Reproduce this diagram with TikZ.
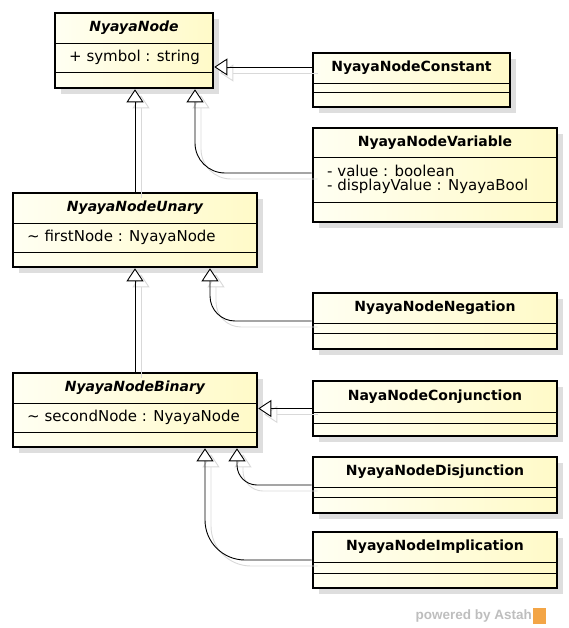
\documentclass[tikz,border=0pt]{standalone}
\usepackage{fontspec}
\setmainfont{DejaVu Sans}
\newfontfamily\creditfont{Liberation Sans}
\usetikzlibrary{arrows.meta, fit, positioning}

\definecolor{boxleft}{RGB}{255,255,242}
\definecolor{boxright}{RGB}{255,250,200}
\definecolor{boxshade}{RGB}{222,222,222}
\definecolor{wmgray}{RGB}{190,190,190}
\definecolor{astahorange}{RGB}{243,165,70}

\tikzset{
  classbox/.style={draw, line width=2.6pt, inner sep=0pt, left color=boxleft, right color=boxright},
  divider/.style={line width=0.9pt},
  classname/.style={font=\fontsize{14}{16}\selectfont\bfseries, inner sep=0pt},
  attrs/.style={font=\fontsize{15}{13.5}\selectfont, align=left, anchor=west, inner sep=0pt},
  gen/.style={line width=0.9pt, -{Triangle[open, fill=white, length=13pt, width=17pt]}},
}

% class box: name, left, top, right, bottom, divider 1, divider 2, title, attributes
\newcommand{\umlclass}[9]{%
  \fill[boxshade] (#2+6,#3+6) rectangle (#4+6,#5+6);
  \path (#2,#3) coordinate (#1-nw) (#4,#5) coordinate (#1-se);
  \node[classbox, fit=(#1-nw)(#1-se)] (#1) {};
  \draw[divider] (#2,#6) -- (#4,#6) (#2,#7) -- (#4,#7);
  \node[classname] at ({(#2+#4)/2},{(#3+#6)/2}) {#8};
  \node[attrs] at (#2+14,{(#6+#7)/2}) {#9};
}

\begin{document}
\begin{tikzpicture}[x=1pt, y=-1pt]
\useasboundingbox (0,0) rectangle (569,628);

% Classes
\umlclass{nyaya}{55}{13}{213}{88}{43}{72}{\itshape NyayaNode}{+ symbol : string}
\umlclass{const}{313}{53}{510}{107}{83}{92}{NyayaNodeConstant}{}
\umlclass{var}{313}{128}{557}{222}{157}{202}{NyayaNodeVariable}{- value : boolean\\- displayValue : NyayaBool}
\umlclass{unary}{13}{193}{257}{267}{223}{252}{\itshape NyayaNodeUnary}{\textasciitilde{} firstNode : NyayaNode}
\umlclass{neg}{313}{293}{557}{349}{323}{333}{NyayaNodeNegation}{}
\umlclass{binary}{13}{373}{257}{447}{403}{432}{\itshape NyayaNodeBinary}{\textasciitilde{} secondNode : NyayaNode}
\umlclass{conj}{313}{381}{557}{436}{412}{423}{NayaNodeConjunction}{}
\umlclass{disj}{313}{457}{557}{513}{487}{497}{NyayaNodeDisjunction}{}
\umlclass{impl}{313}{532}{557}{588}{562}{573}{NyayaNodeImplication}{}

% Generalizations (shadow first, then the line)
\foreach \dx/\col in {6/black!15, 0/black} {
\begin{scope}[transform canvas={shift={(\dx pt,-\dx pt)}}]
\draw[gen, draw=\col] ([yshift=13pt]const.west) -- ([yshift=13pt]const.west -| nyaya.east);
\draw[gen, draw=\col, rounded corners=30pt] ([yshift=2pt]var.west) -| ([xshift=61pt]nyaya.south);
\draw[gen, draw=\col] (unary.north) -- (unary.north |- nyaya.south);
\draw[gen, draw=\col, rounded corners=25pt] (neg.west) -| ([xshift=75pt]unary.south);
\draw[gen, draw=\col] (binary.north) -- (binary.north |- unary.south);
\draw[gen, draw=\col] (conj.west) -- (conj.west -| binary.east);
\draw[gen, draw=\col, rounded corners=20pt] (disj.west) -| ([xshift=102pt]binary.south);
\draw[gen, draw=\col, rounded corners=40pt] (impl.west) -| ([xshift=70pt]binary.south);
\end{scope}
}

% Watermark
\node[font=\fontsize{13.5}{15}\selectfont\creditfont\bfseries, text=wmgray, anchor=east, inner sep=0pt] (credit) at (532,616) {powered by Astah};
\node[fill=astahorange, minimum width=13pt, minimum height=16pt, inner sep=0pt, right=0.5pt of credit] (logo) {};
\end{tikzpicture}
\end{document}
